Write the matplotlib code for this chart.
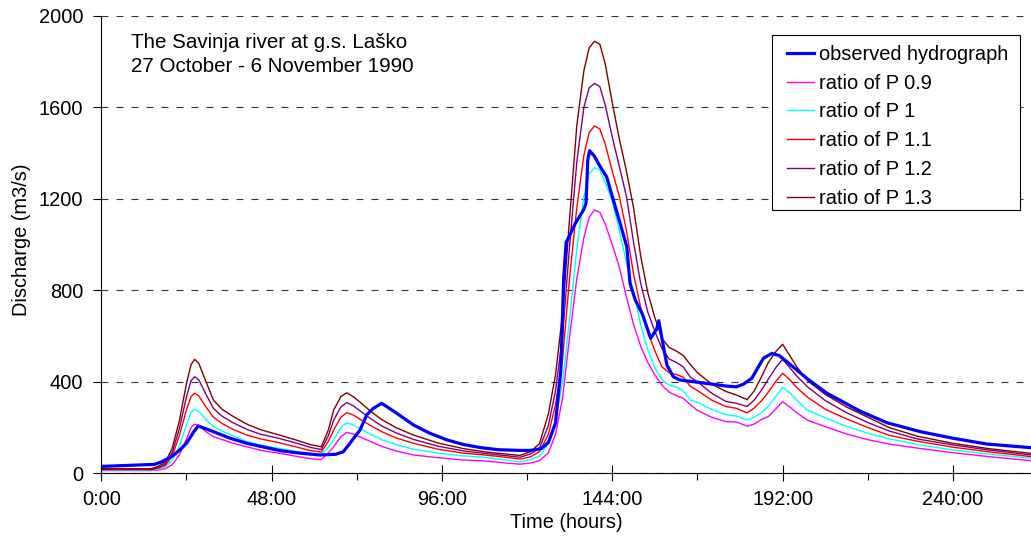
import matplotlib
matplotlib.use("Agg")
import matplotlib.pyplot as plt
from matplotlib.lines import Line2D
from matplotlib.patches import Rectangle

plt.rcParams['font.family'] = ['Liberation Sans', 'DejaVu Sans']
plt.rcParams['lines.scale_dashes'] = False

# Observed hydrograph (hours, m3/s)
T_OBS = [0, 15, 17, 20, 22, 24, 26, 27.3, 28.5, 31.6,
         36, 41, 50.4, 56, 61.6, 66, 68.2, 70, 72.9, 74.8,
         76.5, 79, 83.3, 88, 92.6, 97.4, 102, 107, 112, 118,
         121, 124, 126, 128, 129.5, 130.3, 131, 132, 133.5, 135.9,
         136.6, 137.1, 137.6, 139, 140.6, 142.4, 144.3, 146.2, 148.1, 149,
         150.5, 152.5, 154.8, 156.5, 157.1, 157.9, 159.4, 161.2, 163, 167,
         172, 176.3, 179, 181, 183.3, 186.6, 189, 191, 193.2, 198.8,
         204.5, 213.8, 221.4, 230.8, 240.1, 249.5, 262]
Q_OBS = [30, 39, 50, 75, 100, 131, 180, 207, 200, 182,
         155, 131, 99, 88, 80, 83, 94, 130, 189, 255,
         282, 306, 262, 211, 175, 146, 126, 112, 103, 100,
         100, 108, 135, 220, 450, 850, 1010, 1040, 1090, 1151,
         1180, 1370, 1410, 1385, 1340, 1296, 1194, 1093, 990, 830,
         757, 695, 590, 630, 667, 597, 473, 422, 408, 400,
         390, 381, 378, 390, 415, 503, 524, 515, 488, 415,
         350, 272, 221, 182, 153, 128, 112]

# Simulated hydrographs for scaled precipitation (hours, m3/s)
T_SIM = [0, 14, 16, 18, 20, 22, 24, 25.3, 26.3, 27.5,
         29.5, 31.6, 34, 37, 41, 45, 50, 55, 59, 62,
         64, 65.5, 67.5, 69.2, 71, 73, 76, 79, 83, 88,
         95, 102, 108, 114, 118, 121, 123.5, 126, 128, 130,
         132, 134, 136, 137.5, 139, 140.5, 142, 144, 146, 148,
         150, 152, 154, 156, 158, 160, 162, 164, 166, 168,
         172, 176, 179, 182, 184, 186, 188, 190, 192, 194,
         196, 199, 204, 210, 216, 222, 230, 240, 250, 262]
Q_P09 = [12, 12, 14, 20, 38, 80, 150, 200, 215, 208,
         182, 160, 148, 132, 116, 100, 88, 74, 64, 60,
         90, 116, 160, 179, 172, 158, 138, 118, 98, 80,
         68, 58, 54, 45, 40, 45, 55, 90, 170, 330,
         600, 850, 1030, 1120, 1151, 1140, 1090, 1000, 900, 770,
         650, 555, 485, 430, 385, 355, 340, 328, 300, 275,
         245, 226, 224, 206, 215, 235, 248, 280, 313, 290,
         265, 232, 204, 172, 147, 128, 110, 90, 73, 55]
Q_P10 = [14, 14, 18, 28, 58, 120, 211, 268, 280, 270,
         235, 204, 185, 165, 138, 123, 109, 95, 86, 82,
         115, 146, 200, 221, 212, 195, 170, 147, 126, 105,
         88, 76, 70, 58, 50, 60, 75, 130, 230, 400,
         680, 980, 1210, 1310, 1336, 1325, 1270, 1190, 1060, 920,
         790, 650, 540, 460, 410, 385, 378, 360, 320, 310,
         280, 256, 250, 233, 245, 265, 292, 335, 376, 352,
         320, 276, 243, 205, 175, 151, 126, 102, 84, 66]
Q_P11 = [16, 16, 22, 34, 75, 165, 277, 335, 350, 338,
         290, 245, 218, 193, 167, 150, 134, 115, 99, 93,
         140, 189, 245, 265, 255, 235, 208, 182, 155, 131,
         105, 88, 80, 70, 62, 72, 95, 170, 300, 500,
         860, 1160, 1390, 1490, 1518, 1505, 1440, 1320, 1210, 1060,
         870, 725, 620, 535, 465, 440, 432, 420, 380, 362,
         320, 292, 284, 264, 285, 316, 355, 400, 437, 410,
         375, 333, 280, 238, 200, 166, 140, 114, 94, 73]
Q_P12 = [18, 18, 25, 40, 92, 195, 335, 405, 422, 408,
         345, 284, 250, 222, 192, 170, 153, 132, 113, 104,
         165, 233, 290, 309, 295, 272, 238, 207, 177, 148,
         118, 98, 87, 77, 70, 85, 110, 210, 360, 600,
         1000, 1360, 1600, 1685, 1704, 1690, 1610, 1470, 1340, 1210,
         1010, 830, 705, 620, 545, 500, 485, 465, 420, 400,
         350, 314, 306, 292, 320, 362, 412, 460, 498, 462,
         425, 378, 318, 265, 222, 185, 150, 124, 102, 80]
Q_P13 = [20, 20, 30, 48, 110, 230, 393, 475, 498, 480,
         400, 320, 280, 250, 215, 190, 168, 145, 125, 116,
         190, 277, 335, 352, 335, 310, 270, 235, 200, 167,
         132, 108, 94, 84, 78, 95, 130, 260, 430, 700,
         1120, 1520, 1760, 1860, 1888, 1875, 1790, 1620, 1460, 1320,
         1160, 950, 790, 680, 590, 550, 535, 515, 475, 440,
         390, 358, 342, 322, 360, 420, 485, 530, 564, 515,
         465, 405, 345, 290, 245, 200, 162, 131, 108, 87]

SIM_SERIES = [Q_P09, Q_P10, Q_P11, Q_P12, Q_P13]
SIM_LABELS = ["ratio of P 0.9", "ratio of P 1", "ratio of P 1.1",
              "ratio of P 1.2", "ratio of P 1.3"]
SIM_COLORS = ["#FF00FF", "#00FFFF", "#FF0000", "#800080", "#800000"]
OBS_COLOR = "#0000FF"

X_MAJOR = [0, 48, 96, 144, 192, 240]
X_MINOR = [24, 72, 120, 168, 216]
Y_TICKS = [0, 400, 800, 1200, 1600, 2000]

W, H = 1031, 540
FS = 14.4

fig = plt.figure(figsize=(W / 100, H / 100), dpi=100)
x0, y0_px, y1_px = 101.3, 473.3, 15.7
ax = fig.add_axes([x0 / W, (H - y0_px) / H, 1 - x0 / W, (y0_px - y1_px) / H])

for q, c in zip(SIM_SERIES, SIM_COLORS):
    ax.plot(T_SIM, q, color=c, lw=1.0, zorder=2)
ax.plot(T_OBS, Q_OBS, color=OBS_COLOR, lw=2.3, zorder=3)

ax.set_xlim(0, 262)
ax.set_ylim(0, 2000)
ax.set_xticks(X_MAJOR)
ax.set_xticklabels([f"{h}:00" for h in X_MAJOR])
ax.set_xticks(X_MINOR, minor=True)
ax.set_yticks(Y_TICKS)
ax.set_yticklabels([str(v) for v in Y_TICKS])

for s in ("top", "right"):
    ax.spines[s].set_visible(False)
for s in ("left", "bottom"):
    ax.spines[s].set_linewidth(0.8)

ax.tick_params(axis='x', which='major', direction='inout', length=12,
               width=0.8, pad=6, labelsize=FS)
ax.tick_params(axis='x', which='minor', direction='out', length=5, width=0.8)
ax.tick_params(axis='y', direction='out', length=6, width=0.8, pad=7,
               labelsize=FS)

ax.yaxis.grid(True, linestyle=(0, (5.0, 5.8)), color='#333333', lw=0.8)
ax.set_axisbelow(True)

fig.text(22 / W, 1 - 240 / H, "Discharge (m3/s)", rotation=90,
         ha='center', va='center', fontsize=FS)
fig.text(566 / W, 1 - 522 / H, "Time (hours)", ha='center', va='center',
         fontsize=FS)

fig.text(131 / W, 1 - 43 / H, "The Savinja river at g.s. Laško",
         ha='left', va='center', fontsize=14.8)
fig.text(131 / W, 1 - 67 / H, "27 October - 6 November 1990",
         ha='left', va='center', fontsize=14.8)

# Legend box
frame = Rectangle((771.7 / W, 1 - 210 / H), (1020 - 771.7) / W, (210 - 35) / H,
                  transform=fig.transFigure, facecolor='white',
                  edgecolor='black', lw=0.8, zorder=4, clip_on=False)
ax.add_patch(frame)

handles = [Line2D([], [], color=OBS_COLOR, lw=2.3)]
handles += [Line2D([], [], color=c, lw=1.0) for c in SIM_COLORS]
labels = ["observed hydrograph"] + SIM_LABELS
leg = ax.legend(handles, labels, loc='upper left', frameon=False,
                bbox_to_anchor=(786.7 / W, 1 - 44.7 / H),
                bbox_transform=fig.transFigure, borderpad=0, borderaxespad=0,
                handlelength=1.35, handletextpad=0.25, labelspacing=0.49,
                fontsize=FS)
leg.set_zorder(5)

fig.savefig("out.png", dpi=100)
